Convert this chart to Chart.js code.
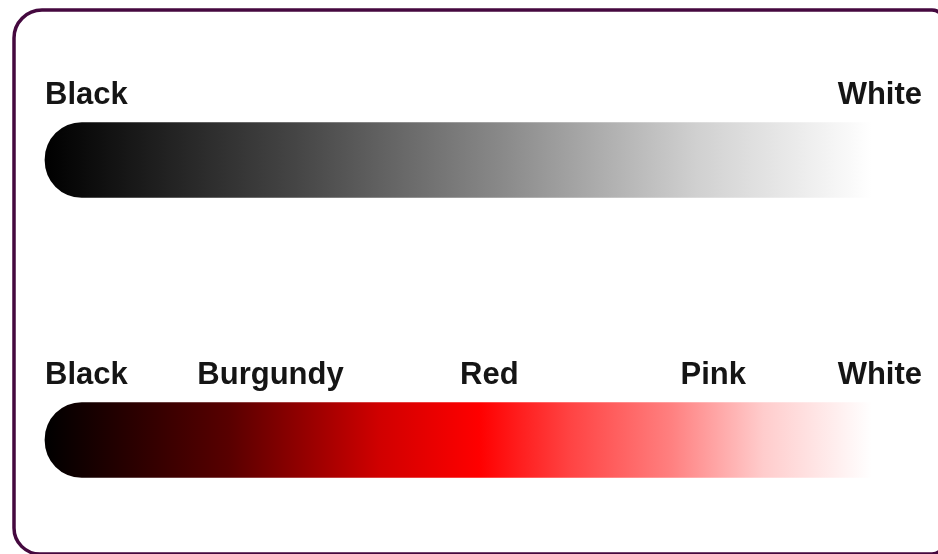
<!DOCTYPE html>
<html>
<head>
<meta charset="utf-8">
<script src="https://cdn.jsdelivr.net/npm/chart.js@4/dist/chart.umd.min.js"></script>
<style>
  html, body { margin: 0; padding: 0; background: #fff; }
  #wrap { width: 938px; height: 554px; }
</style>
</head>
<body>
<div id="wrap"><canvas id="scaleChart" width="938" height="554"></canvas></div>
<script>
// rows of the picture
const categories = ['Black - White', 'Black - Burgundy - Red - Pink - White'];
const barRanges = [[0, 100], [0, 100]];

// gradient stops (position on the 0..105 axis) and colours
const greyStops = [0, 30, 55, 78, 99];
const greyColors = ['#000000', '#454545', '#8a8a8a', '#d0d0d0', '#ffffff'];
const redStops = [0, 7, 22, 40, 52, 63, 75, 86, 99];
const redColors = ['#000000', '#1c0000', '#580000', '#d00000', '#ff0000', '#ff4444', '#ff8080', '#ffcccc', '#ffffff'];

// labels above each bar
const topLabels = ['Black', 'White'];
const topLabelPos = [0, 105];
const bottomLabels = ['Black', 'Burgundy', 'Red', 'Pink', 'White'];
const bottomLabelPos = [0, 27, 53.2, 80, 105];

const stopSets = [[greyStops, greyColors], [redStops, redColors]];
const labelSets = [[topLabels, topLabelPos], [bottomLabels, bottomLabelPos]];

function barGradient(c) {
  const chart = c.chart;
  const x = chart.scales.x;
  if (!x || !chart.chartArea) return '#000';
  const x0 = x.getPixelForValue(0);
  const x1 = x.getPixelForValue(100);
  const g = chart.ctx.createLinearGradient(x0, 0, x1, 0);
  const [stops, colors] = stopSets[c.dataIndex];
  stops.forEach((s, i) => g.addColorStop(Math.min(s / 100, 1), colors[i]));
  return g;
}

// rounded purple frame, its right and bottom sides run off the picture
const framePlugin = {
  id: 'frame',
  beforeDraw(chart) {
    const ctx = chart.ctx;
    ctx.save();
    ctx.strokeStyle = '#45093f';
    ctx.lineWidth = 3.5;
    ctx.beginPath();
    ctx.roundRect(14, 10, 930, 544, [28, 12, 12, 26]);
    ctx.stroke();
    ctx.restore();
  }
};

// text labels above the bars, placed through the x scale
const labelPlugin = {
  id: 'barLabels',
  afterDatasetsDraw(chart) {
    const ctx = chart.ctx;
    const x = chart.scales.x;
    const y = chart.scales.y;
    ctx.save();
    ctx.font = 'bold 31px "Liberation Sans", Arial, sans-serif';
    ctx.fillStyle = '#151515';
    ctx.textBaseline = 'alphabetic';
    labelSets.forEach(([texts, pos], row) => {
      const baseY = y.getPixelForValue(row) - 37.5 - 19;
      texts.forEach((t, i) => {
        if (i === 0) ctx.textAlign = 'left';
        else if (i === texts.length - 1) ctx.textAlign = 'right';
        else ctx.textAlign = 'center';
        ctx.fillText(t, x.getPixelForValue(pos[i]), baseY);
      });
    });
    ctx.restore();
  }
};

const ctx = document.getElementById('scaleChart').getContext('2d');
new Chart(ctx, {
  type: 'bar',
  data: {
    labels: categories,
    datasets: [{
      data: barRanges,
      backgroundColor: barGradient,
      borderWidth: 0,
      borderSkipped: false,
      borderRadius: { topLeft: 37, bottomLeft: 37, topRight: 0, bottomRight: 0 },
      barThickness: 75,
      clip: false
    }]
  },
  options: {
    indexAxis: 'y',
    responsive: false,
    animation: false,
    layout: { padding: { top: 160, bottom: 114, left: 45, right: 16 } },
    scales: {
      x: { type: 'linear', min: 0, max: 105, display: false },
      y: { offset: false, display: false }
    },
    plugins: {
      legend: { display: false },
      tooltip: { enabled: false }
    }
  },
  plugins: [framePlugin, labelPlugin]
});
</script>
</body>
</html>
